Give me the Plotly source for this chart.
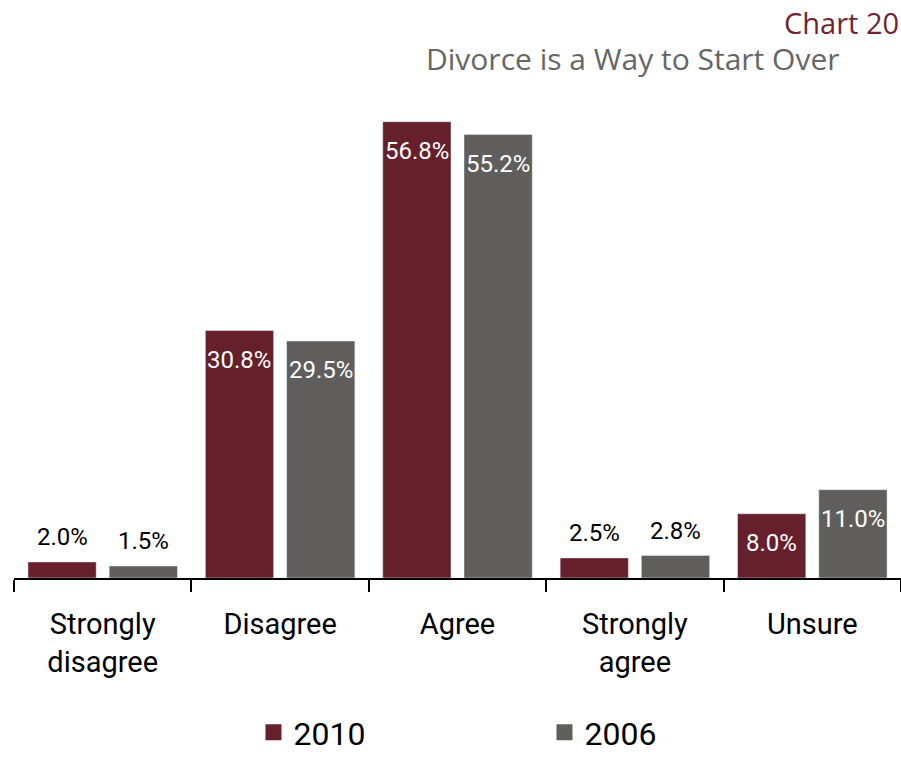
import plotly.graph_objects as go

# Survey responses: "Divorce is a way to start over"
categories = ["Strongly<br>disagree", "Disagree", "Agree", "Strongly<br>agree", "Unsure"]
values_2010 = [2.0, 30.8, 56.8, 2.5, 8.0]
values_2006 = [1.5, 29.5, 55.2, 2.8, 11.0]

MAROON = "#65202C"
GREY = "#5F5E5C"
LABEL_FONT = "Roboto, Liberation Sans, sans-serif"
TITLE_FONT = "Open Sans, Roboto, sans-serif"

W, H = 901, 761
ML, MR, MT, MB = 14, 0, 96, 183
BARGAP, BARGROUPGAP = 0.084, 0.16
PLOT_H = H - MT - MB

fig = go.Figure()
fig.add_bar(x=categories, y=values_2010, name="2010", marker_color=MAROON,
            showlegend=False, hoverinfo="skip")
fig.add_bar(x=categories, y=values_2006, name="2006", marker_color=GREY,
            showlegend=False, hoverinfo="skip")

# legend entries with larger square swatches
for name, col in [("2010", MAROON), ("2006", GREY)]:
    fig.add_scatter(x=[None], y=[None], mode="markers", name=name,
                    marker=dict(symbol="square", size=20, color=col))

# value labels: inside the bar (white) when tall enough, otherwise above it
cat_w = (W - ML - MR) / len(categories)
offset = cat_w * (1 - BARGAP) / 4
annotations = []
for series, sign in [(values_2010, -1), (values_2006, 1)]:
    for cat, v in zip(categories, series):
        inside = v > 5
        annotations.append(dict(
            x=cat, y=v, xref="x", yref="y", text=f"{v:.1f}%", showarrow=False,
            xshift=sign * offset, yshift=-13 if inside else 9,
            yanchor="top" if inside else "bottom",
            font=dict(family=LABEL_FONT, size=24, color="white" if inside else "black"),
        ))

annotations.append(dict(text="Chart 20", xref="paper", yref="paper", x=1, y=1,
                        xanchor="right", yanchor="middle", yshift=74, showarrow=False,
                        font=dict(family=TITLE_FONT, size=29, color="#6E2433")))
annotations.append(dict(text="Divorce is a Way to Start Over", xref="paper", yref="paper",
                        x=1, y=1, xanchor="right", yanchor="middle", xshift=-60, yshift=38,
                        showarrow=False,
                        font=dict(family=TITLE_FONT, size=30, color="#666666")))

fig.update_layout(
    width=W, height=H,
    margin=dict(l=ML, r=MR, t=MT, b=MB, autoexpand=False),
    paper_bgcolor="white", plot_bgcolor="white",
    barmode="group", bargap=BARGAP, bargroupgap=BARGROUPGAP,
    annotations=annotations,
    # legend box sits on the bottom edge of the page
    legend=dict(orientation="h", x=0.27, xanchor="left",
                y=-(MB - 1) / PLOT_H, yanchor="bottom",
                entrywidth=246, entrywidthmode="pixels",
                font=dict(family=LABEL_FONT, size=32, color="black")),
    xaxis=dict(showline=True, linecolor="black", linewidth=2,
               ticks="outside", tickson="boundaries", ticklen=12, tickwidth=2,
               tickcolor="black", ticklabelstandoff=19,
               tickfont=dict(family=LABEL_FONT, size=29, color="black"),
               showgrid=False, automargin=False),
    yaxis=dict(range=[0, 60], visible=False, showgrid=False, zeroline=False),
)

fig.write_html("out.html")
